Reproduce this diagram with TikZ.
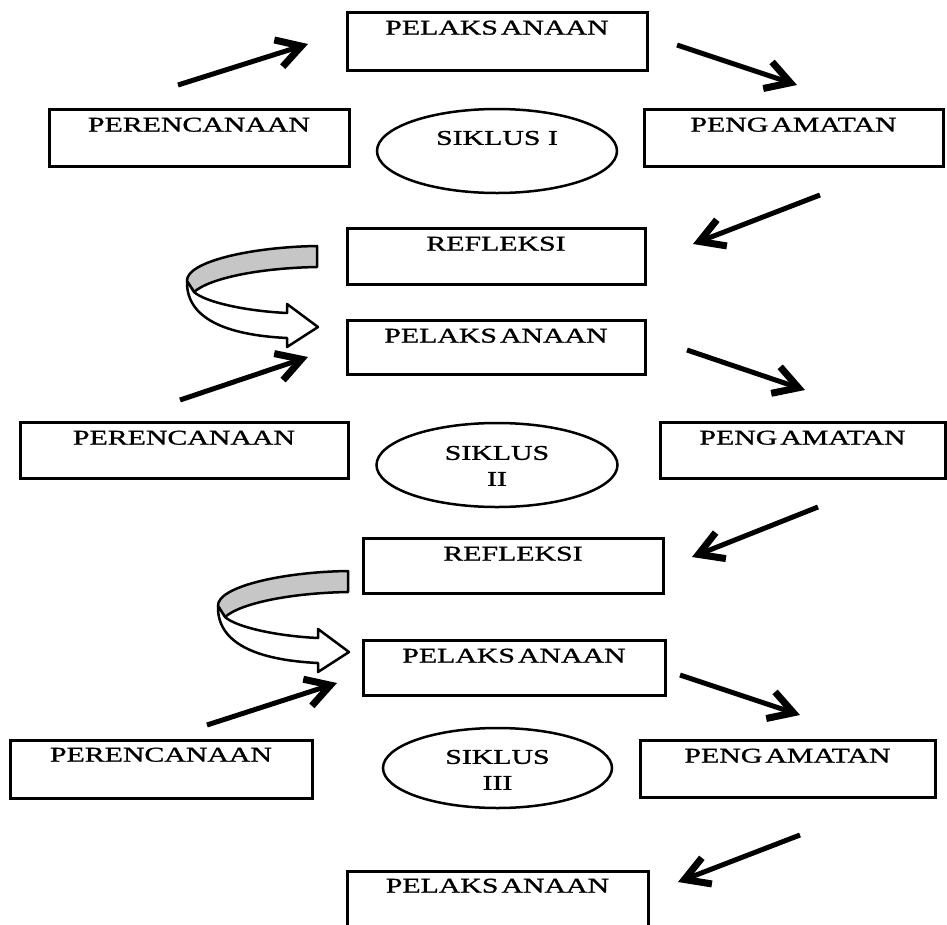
\documentclass[tikz,border=0pt]{standalone}
\usepackage{fontspec}
\setmainfont[FakeStretch=1.42,FakeBold=1.2]{Liberation Serif}
\usetikzlibrary{arrows.meta,shapes.geometric,fit}
\begin{document}
\begin{tikzpicture}[x=1pt,y=-1pt,
  box/.style={draw, line width=3pt, inner sep=0pt},
  ell/.style={draw, ellipse, line width=2.5pt, inner sep=0pt},
  lbl/.style={anchor=north, inner sep=0pt, font=\fontsize{21}{26}\selectfont, align=center},
  arr/.style={line width=5pt, -{Straight Barb[length=24pt,width=28pt,line width=7pt]}},
  ribbon/.style={draw, line width=2.5pt, line join=round}]
\clip (0,0) rectangle (947,924);
\fill[white] (0,0) rectangle (947,924);

% ---------- Cycle I ----------
\node[box, fit={(347,12) (647,70)}] (p1) {};
\node[lbl] (p1t) at ([yshift=-10pt]p1.north) {PELAKS\kern3ptANAAN};
\node[box, fit={(49,109) (349,166)}] (r1) {};
\node[lbl] (r1t) at ([yshift=-10pt]r1.north) {PERENCANAAN};
\node[box, fit={(644,109) (943,166)}] (g1) {};
\node[lbl] (g1t) at ([yshift=-10pt]g1.north) {PENG\kern3ptAMATAN};
\node[ell, minimum width=240pt, minimum height=84pt] (e1) at (497,151) {};
\node[lbl] (e1t) at ([yshift=-23pt]e1.north) {SIKLUS I};
\node[box, fit={(347,228) (645,284)}] (f1) {};
\node[lbl] (f1t) at ([yshift=-10pt]f1.north) {REFLEKSI};

\coordinate (a1s) at (178,85);  \coordinate (a1e) at (308,44);
\coordinate (a2s) at (677,45);  \coordinate (a2e) at (797,85);
\coordinate (a3s) at (820,195); \coordinate (a3e) at (693,244);
\draw[arr] (a1s) -- (a1e);
\draw[arr] (a2s) -- (a2e);
\draw[arr] (a3s) -- (a3e);

% curved ribbon arrow 1
\begin{scope}
  \path[ribbon, fill=gray!45] (317,246) .. controls (250,247) and (186,262) .. (187,281)
     -- (194,292) .. controls (210,278) and (260,268) .. (317,267) -- cycle;
  \path[ribbon, fill=white] (187,281) .. controls (186,318) and (225,335) .. (287,338)
     -- (287,347) -- (318,327) -- (287,304) -- (287,313)
     .. controls (245,311) and (205,302) .. (194,292) -- cycle;
\end{scope}

% ---------- Cycle II ----------
\node[box, fit={(347,320) (645,374)}] (p2) {};
\node[lbl] (p2t) at ([yshift=-10pt]p2.north) {PELAKS\kern3ptANAAN};
\node[box, fit={(20,422) (348,478)}] (r2) {};
\node[lbl] (r2t) at ([yshift=-10pt]r2.north) {PERENCANAAN};
\node[box, fit={(660,422) (945,478)}] (g2) {};
\node[lbl] (g2t) at ([yshift=-10pt]g2.north) {PENG\kern3ptAMATAN};
\node[ell, minimum width=241pt, minimum height=84pt] (e2) at (497,465) {};
\node[lbl] (e2t) at ([yshift=-24pt]e2.north) {SIKLUS\\II};
\node[box, fit={(363,538) (663,593)}] (f2) {};
\node[lbl] (f2t) at ([yshift=-10pt]f2.north) {REFLEKSI};

\coordinate (a4s) at (180,400); \coordinate (a4e) at (308,357);
\coordinate (a5s) at (687,350); \coordinate (a5e) at (805,390);
\coordinate (a6s) at (818,507); \coordinate (a6e) at (692,557);
\draw[arr] (a4s) -- (a4e);
\draw[arr] (a5s) -- (a5e);
\draw[arr] (a6s) -- (a6e);

% curved ribbon arrow 2
\begin{scope}[shift={(31,325)}]
  \path[ribbon, fill=gray!45] (317,246) .. controls (250,247) and (186,262) .. (187,281)
     -- (194,292) .. controls (210,278) and (260,268) .. (317,267) -- cycle;
  \path[ribbon, fill=white] (187,281) .. controls (186,318) and (225,335) .. (287,338)
     -- (287,347) -- (318,327) -- (287,304) -- (287,313)
     .. controls (245,311) and (205,302) .. (194,292) -- cycle;
\end{scope}

% ---------- Cycle III ----------
\node[box, fit={(363,640) (665,695)}] (p3) {};
\node[lbl] (p3t) at ([yshift=-10pt]p3.north) {PELAKS\kern3ptANAAN};
\node[box, fit={(10,740) (312,798)}] (r3) {};
\node[lbl] (r3t) at ([yshift=-9pt]r3.north) {PERENCANAAN};
\node[box, fit={(640,740) (935,797)}] (g3) {};
\node[lbl] (g3t) at ([yshift=-10pt]g3.north) {PENG\kern3ptAMATAN};
\node[ell, minimum width=229pt, minimum height=80pt] (e3) at (497.5,768) {};
\node[lbl] (e3t) at ([yshift=-23pt]e3.north) {SIKLUS\\III};
\node[box, fit={(347,871) (648,945)}] (p4) {};
\node[lbl] (p4t) at ([yshift=-9pt]p4.north) {PELAKS\kern3ptANAAN};

\coordinate (a7s) at (207,725); \coordinate (a7e) at (337,683);
\coordinate (a8s) at (680,675); \coordinate (a8e) at (800,715);
\coordinate (a9s) at (800,835); \coordinate (a9e) at (678,882);
\draw[arr] (a7s) -- (a7e);
\draw[arr] (a8s) -- (a8e);
\draw[arr] (a9s) -- (a9e);
\end{tikzpicture}
\end{document}
